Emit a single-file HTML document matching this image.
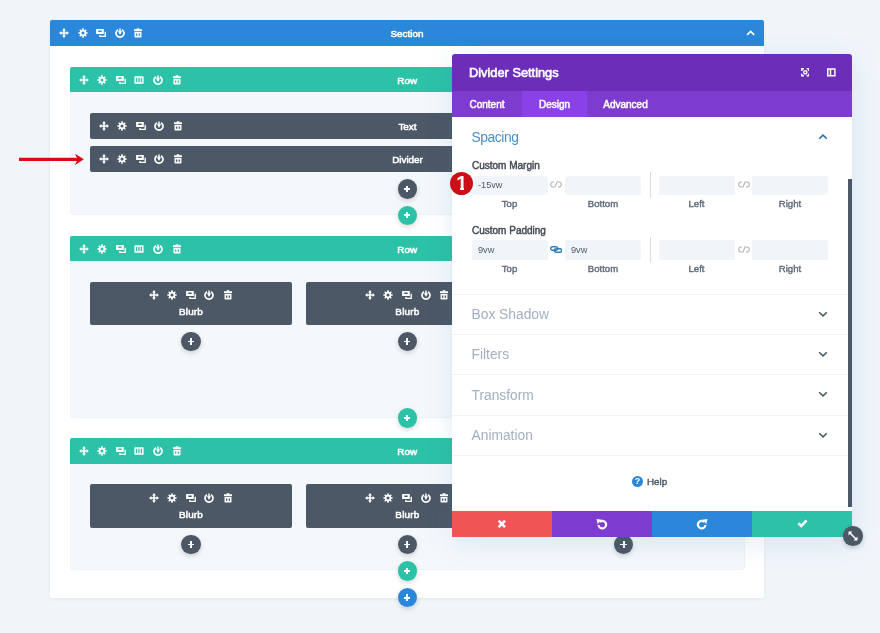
<!DOCTYPE html>
<html><head><meta charset="utf-8"><title>Divider Settings</title>
<style>
*{box-sizing:border-box;margin:0;padding:0}
html,body{width:880px;height:633px;overflow:hidden}
body{background:#f0f5fa;font-family:"Liberation Sans",sans-serif;position:relative;color:#fff}
.abs{position:absolute}
.bar{position:absolute;height:26px;border-radius:2px 2px 0 0}
.lbl{position:absolute;left:0;right:0;top:0;height:26px;line-height:28.4px;text-align:center;font-size:9.9px;-webkit-text-stroke:.55px #fff}
.lbl2{position:absolute;left:0;right:0;top:21.5px;letter-spacing:.2px;height:16px;line-height:16px;text-align:center;font-size:9.9px;-webkit-text-stroke:.55px #fff}
.ic{position:absolute;width:12px;height:12px;fill:#fff}
.sec{background:#2b87da}
.row{background:#2cc2a7;height:25.7px}
.mod{background:#4c5866;border-radius:2px}
.bar.mod{height:25.5px}
.rowbody{position:absolute;background:#f4f8fb;border:1px solid #eef3f7;border-radius:0 0 3px 3px}
.plus{position:absolute;width:19.6px;height:19.6px;border-radius:50%;box-shadow:0 2px 5px rgba(0,0,0,.16)}
.plus:before,.plus:after{content:"";position:absolute;background:#fff;left:6.600px;top:8.850px;width:6.400px;height:1.900px}
.plus:after{left:8.850px;top:6.600px;width:1.900px;height:6.400px}
.pd{background:#4c5866}.pt{background:#2cc2a7}.pb{background:#2b87da}
/* modal */
.modal{position:absolute;left:452px;top:54px;width:400px;height:482.8px;background:#fff;box-shadow:0 6px 28px rgba(50,105,170,.13);border-radius:3px 3px 0 0}
.mh{position:absolute;left:0;top:0;width:400px;height:37px;background:#6c2eb9;border-radius:3px 3px 0 0}
.mh .t{position:absolute;left:17px;top:0;line-height:37px;font-size:12.8px;-webkit-text-stroke:.6px #fff}
.tabs{position:absolute;left:0;top:37px;width:400px;height:26px;background:#7e3bd0}
.tab{position:absolute;top:0;height:26px;line-height:28px;font-size:10px;-webkit-text-stroke:.5px #fff;text-align:center}
.tab.on{background:#8b41e8}
.sep{position:absolute;left:0;width:396px;height:1px;background:#f1f5f9}
.tg{position:absolute;left:19.5px;font-size:13.8px;color:#a2b0c1;line-height:20px}
.chev{position:absolute;left:366px}
.fl{position:absolute;left:20px;font-size:10px;-webkit-text-stroke:.45px #434a55;color:#434a55;line-height:14px}
.inp{position:absolute;height:19px;background:#f1f5f9;border-radius:2px;font-size:9.2px;line-height:19px;color:#4c5866;padding-left:6px}
.sl{position:absolute;font-size:9.6px;-webkit-text-stroke:.4px #5f6b7a;color:#5f6b7a;line-height:12px;text-align:center;width:60px}
.vline{position:absolute;left:198px;width:1px;height:26px;background:#d6dbe0}
.foot{position:absolute;top:456.6px;height:26.2px;width:100px}
</style></head><body>

<div class="abs" style="left:50px;top:20px;width:714px;height:577.7px;background:#fff;box-shadow:0 1px 4px rgba(0,0,0,.06);border-radius:2px"></div>
<div class="bar sec" style="left:50px;top:20px;width:714px"><div class="lbl">Section</div>
<svg class="ic" style="left:7.9px;top:7.4px" viewBox="0 0 12 12"><path d="M6 1.100L7.900 3.400H6.800V5.200H8.600V4.100L10.900 6L8.600 7.900V6.800H6.800V8.600H7.900L6 10.900L4.100 8.600H5.200V6.800H3.400V7.900L1.100 6L3.400 4.100V5.200H5.200V3.400H4.100Z"/></svg>
<svg class="ic" style="left:26.5px;top:7.4px" viewBox="0 0 12 12"><path fill-rule="evenodd" d="M5.15 2.81L5.26 1.36L6.74 1.36L6.85 2.81L7.66 3.15L8.76 2.20L9.80 3.24L8.85 4.34L9.19 5.15L10.64 5.26L10.64 6.74L9.19 6.85L8.85 7.66L9.80 8.76L8.76 9.80L7.66 8.85L6.85 9.19L6.74 10.64L5.26 10.64L5.15 9.19L4.34 8.85L3.24 9.80L2.20 8.76L3.15 7.66L2.81 6.85L1.36 6.74L1.36 5.26L2.81 5.15L3.15 4.34L2.20 3.24L3.24 2.20L4.34 3.15ZM6 4.50a1.5 1.5 0 1 0 0 3.00a1.5 1.5 0 1 0 0 -3.00z"/></svg>
<svg class="ic" style="left:45.1px;top:7.4px" viewBox="0 0 12 12"><path fill-rule="evenodd" d="M1.100 2H8.800V6.900H1.100ZM3.250 3.500V4.900H6.650V3.500ZM9.550 4.750H10.900V10H4.200V8.100H5.550V8.650H9.550Z"/></svg>
<svg class="ic" style="left:63.7px;top:7.4px" viewBox="0 0 12 12"><path d="M5.250 1.500H6.750V4.300H8.050L6 7.900L3.950 4.300H5.250Z"/><path d="M3.575 2L4.425 3.470A3.150 3.150 0 1 0 7.575 3.470L8.425 2A4.850 4.850 0 1 1 3.575 2Z"/></svg>
<svg class="ic" style="left:82.3px;top:7.4px" viewBox="0 0 12 12"><path fill-rule="evenodd" d="M4.700 1.300H7.300V2.300H10V4H2V2.300H4.700ZM2.500 4.750H9.500V9.700A.8.800 0 0 1 8.700 10.500H3.300A.8.800 0 0 1 2.500 9.700ZM3.900 6.600V8.800H5.300V6.600ZM6.700 6.600V8.800H8.100V6.600Z"/></svg>
<svg class="abs" style="left:696.400px;top:9.800px" width="9.300" height="6" viewBox="0 0 9.300 6"><path d="M1.100 4.900 4.650 1.400 8.200 4.900" stroke="#fff" stroke-width="1.800" fill="none"/></svg>
</div>
<div class="rowbody" style="left:70px;top:80px;width:674.5px;height:135.2px"></div>
<div class="bar row" style="left:70px;top:66.8px;width:674.5px"><div class="lbl">Row</div>
<svg class="ic" style="left:7.5px;top:7px" viewBox="0 0 12 12"><path d="M6 1.100L7.900 3.400H6.800V5.200H8.600V4.100L10.900 6L8.600 7.900V6.800H6.800V8.600H7.900L6 10.900L4.100 8.600H5.200V6.800H3.400V7.900L1.100 6L3.400 4.100V5.200H5.200V3.400H4.100Z"/></svg>
<svg class="ic" style="left:26.1px;top:7px" viewBox="0 0 12 12"><path fill-rule="evenodd" d="M5.15 2.81L5.26 1.36L6.74 1.36L6.85 2.81L7.66 3.15L8.76 2.20L9.80 3.24L8.85 4.34L9.19 5.15L10.64 5.26L10.64 6.74L9.19 6.85L8.85 7.66L9.80 8.76L8.76 9.80L7.66 8.85L6.85 9.19L6.74 10.64L5.26 10.64L5.15 9.19L4.34 8.85L3.24 9.80L2.20 8.76L3.15 7.66L2.81 6.85L1.36 6.74L1.36 5.26L2.81 5.15L3.15 4.34L2.20 3.24L3.24 2.20L4.34 3.15ZM6 4.50a1.5 1.5 0 1 0 0 3.00a1.5 1.5 0 1 0 0 -3.00z"/></svg>
<svg class="ic" style="left:44.7px;top:7px" viewBox="0 0 12 12"><path fill-rule="evenodd" d="M1.100 2H8.800V6.900H1.100ZM3.250 3.500V4.900H6.650V3.500ZM9.550 4.750H10.900V10H4.200V8.100H5.550V8.650H9.550Z"/></svg>
<svg class="ic" style="left:63.3px;top:7px" viewBox="0 0 12 12"><path fill-rule="evenodd" d="M2.300 2.200H9.700A.9.900 0 0 1 10.600 3.100V8.900A.9.900 0 0 1 9.700 9.800H2.300A.9.900 0 0 1 1.400 8.900V3.100A.9.900 0 0 1 2.300 2.200ZM2.900 3.700V8.300H4.250V3.700ZM5.325 3.700V8.300H6.675V3.700ZM7.750 3.700V8.300H9.100V3.700Z"/></svg>
<svg class="ic" style="left:81.9px;top:7px" viewBox="0 0 12 12"><path d="M5.250 1.500H6.750V4.300H8.050L6 7.900L3.950 4.300H5.250Z"/><path d="M3.575 2L4.425 3.470A3.150 3.150 0 1 0 7.575 3.470L8.425 2A4.850 4.850 0 1 1 3.575 2Z"/></svg>
<svg class="ic" style="left:100.5px;top:7px" viewBox="0 0 12 12"><path fill-rule="evenodd" d="M4.700 1.300H7.300V2.300H10V4H2V2.300H4.700ZM2.500 4.750H9.500V9.700A.8.800 0 0 1 8.700 10.500H3.300A.8.800 0 0 1 2.500 9.700ZM3.900 6.600V8.800H5.300V6.600ZM6.700 6.600V8.800H8.100V6.600Z"/></svg>
</div>
<div class="bar mod" style="left:90px;top:113.3px;width:635px"><div class="lbl">Text</div>
<svg class="ic" style="left:7.5px;top:6.8px" viewBox="0 0 12 12"><path d="M6 1.100L7.900 3.400H6.800V5.200H8.600V4.100L10.900 6L8.600 7.900V6.800H6.800V8.600H7.900L6 10.900L4.100 8.600H5.200V6.800H3.400V7.900L1.100 6L3.400 4.100V5.200H5.200V3.400H4.100Z"/></svg>
<svg class="ic" style="left:26.1px;top:6.8px" viewBox="0 0 12 12"><path fill-rule="evenodd" d="M5.15 2.81L5.26 1.36L6.74 1.36L6.85 2.81L7.66 3.15L8.76 2.20L9.80 3.24L8.85 4.34L9.19 5.15L10.64 5.26L10.64 6.74L9.19 6.85L8.85 7.66L9.80 8.76L8.76 9.80L7.66 8.85L6.85 9.19L6.74 10.64L5.26 10.64L5.15 9.19L4.34 8.85L3.24 9.80L2.20 8.76L3.15 7.66L2.81 6.85L1.36 6.74L1.36 5.26L2.81 5.15L3.15 4.34L2.20 3.24L3.24 2.20L4.34 3.15ZM6 4.50a1.5 1.5 0 1 0 0 3.00a1.5 1.5 0 1 0 0 -3.00z"/></svg>
<svg class="ic" style="left:44.7px;top:6.8px" viewBox="0 0 12 12"><path fill-rule="evenodd" d="M1.100 2H8.800V6.900H1.100ZM3.250 3.500V4.900H6.650V3.500ZM9.550 4.750H10.900V10H4.200V8.100H5.550V8.650H9.550Z"/></svg>
<svg class="ic" style="left:63.3px;top:6.8px" viewBox="0 0 12 12"><path d="M5.250 1.500H6.750V4.300H8.050L6 7.900L3.950 4.300H5.250Z"/><path d="M3.575 2L4.425 3.470A3.150 3.150 0 1 0 7.575 3.470L8.425 2A4.850 4.850 0 1 1 3.575 2Z"/></svg>
<svg class="ic" style="left:81.9px;top:6.8px" viewBox="0 0 12 12"><path fill-rule="evenodd" d="M4.700 1.300H7.300V2.300H10V4H2V2.300H4.700ZM2.500 4.750H9.500V9.700A.8.800 0 0 1 8.700 10.500H3.300A.8.800 0 0 1 2.500 9.700ZM3.900 6.600V8.800H5.300V6.600ZM6.700 6.600V8.800H8.100V6.600Z"/></svg>
</div>
<div class="bar mod" style="left:90px;top:146.2px;width:635px"><div class="lbl">Divider</div>
<svg class="ic" style="left:7.5px;top:6.8px" viewBox="0 0 12 12"><path d="M6 1.100L7.900 3.400H6.800V5.200H8.600V4.100L10.900 6L8.600 7.900V6.800H6.800V8.600H7.900L6 10.900L4.100 8.600H5.200V6.800H3.400V7.900L1.100 6L3.400 4.100V5.200H5.200V3.400H4.100Z"/></svg>
<svg class="ic" style="left:26.1px;top:6.8px" viewBox="0 0 12 12"><path fill-rule="evenodd" d="M5.15 2.81L5.26 1.36L6.74 1.36L6.85 2.81L7.66 3.15L8.76 2.20L9.80 3.24L8.85 4.34L9.19 5.15L10.64 5.26L10.64 6.74L9.19 6.85L8.85 7.66L9.80 8.76L8.76 9.80L7.66 8.85L6.85 9.19L6.74 10.64L5.26 10.64L5.15 9.19L4.34 8.85L3.24 9.80L2.20 8.76L3.15 7.66L2.81 6.85L1.36 6.74L1.36 5.26L2.81 5.15L3.15 4.34L2.20 3.24L3.24 2.20L4.34 3.15ZM6 4.50a1.5 1.5 0 1 0 0 3.00a1.5 1.5 0 1 0 0 -3.00z"/></svg>
<svg class="ic" style="left:44.7px;top:6.8px" viewBox="0 0 12 12"><path fill-rule="evenodd" d="M1.100 2H8.800V6.900H1.100ZM3.250 3.500V4.900H6.650V3.500ZM9.550 4.750H10.900V10H4.200V8.100H5.550V8.650H9.550Z"/></svg>
<svg class="ic" style="left:63.3px;top:6.8px" viewBox="0 0 12 12"><path d="M5.250 1.500H6.750V4.300H8.050L6 7.900L3.950 4.300H5.250Z"/><path d="M3.575 2L4.425 3.470A3.150 3.150 0 1 0 7.575 3.470L8.425 2A4.850 4.850 0 1 1 3.575 2Z"/></svg>
<svg class="ic" style="left:81.9px;top:6.8px" viewBox="0 0 12 12"><path fill-rule="evenodd" d="M4.700 1.300H7.300V2.300H10V4H2V2.300H4.700ZM2.500 4.750H9.500V9.700A.8.800 0 0 1 8.700 10.500H3.300A.8.800 0 0 1 2.500 9.700ZM3.900 6.600V8.800H5.300V6.600ZM6.700 6.600V8.800H8.100V6.600Z"/></svg>
</div>
<div class="plus pd" style="left:397.5px;top:179px"></div>
<div class="plus pt" style="left:397.5px;top:205.5px"></div>
<div class="rowbody" style="left:70px;top:250px;width:674.5px;height:167.6px"></div>
<div class="bar row" style="left:70px;top:235.8px;width:674.5px"><div class="lbl">Row</div>
<svg class="ic" style="left:7.5px;top:7px" viewBox="0 0 12 12"><path d="M6 1.100L7.900 3.400H6.800V5.200H8.600V4.100L10.900 6L8.600 7.900V6.800H6.800V8.600H7.900L6 10.900L4.100 8.600H5.200V6.800H3.400V7.900L1.100 6L3.400 4.100V5.200H5.200V3.400H4.100Z"/></svg>
<svg class="ic" style="left:26.1px;top:7px" viewBox="0 0 12 12"><path fill-rule="evenodd" d="M5.15 2.81L5.26 1.36L6.74 1.36L6.85 2.81L7.66 3.15L8.76 2.20L9.80 3.24L8.85 4.34L9.19 5.15L10.64 5.26L10.64 6.74L9.19 6.85L8.85 7.66L9.80 8.76L8.76 9.80L7.66 8.85L6.85 9.19L6.74 10.64L5.26 10.64L5.15 9.19L4.34 8.85L3.24 9.80L2.20 8.76L3.15 7.66L2.81 6.85L1.36 6.74L1.36 5.26L2.81 5.15L3.15 4.34L2.20 3.24L3.24 2.20L4.34 3.15ZM6 4.50a1.5 1.5 0 1 0 0 3.00a1.5 1.5 0 1 0 0 -3.00z"/></svg>
<svg class="ic" style="left:44.7px;top:7px" viewBox="0 0 12 12"><path fill-rule="evenodd" d="M1.100 2H8.800V6.900H1.100ZM3.250 3.500V4.900H6.650V3.500ZM9.550 4.750H10.900V10H4.200V8.100H5.550V8.650H9.550Z"/></svg>
<svg class="ic" style="left:63.3px;top:7px" viewBox="0 0 12 12"><path fill-rule="evenodd" d="M2.300 2.200H9.700A.9.900 0 0 1 10.600 3.100V8.900A.9.900 0 0 1 9.700 9.800H2.300A.9.900 0 0 1 1.400 8.900V3.100A.9.900 0 0 1 2.300 2.200ZM2.900 3.700V8.300H4.250V3.700ZM5.325 3.700V8.300H6.675V3.700ZM7.750 3.700V8.300H9.100V3.700Z"/></svg>
<svg class="ic" style="left:81.9px;top:7px" viewBox="0 0 12 12"><path d="M5.250 1.500H6.750V4.300H8.050L6 7.900L3.950 4.300H5.250Z"/><path d="M3.575 2L4.425 3.470A3.150 3.150 0 1 0 7.575 3.470L8.425 2A4.850 4.850 0 1 1 3.575 2Z"/></svg>
<svg class="ic" style="left:100.5px;top:7px" viewBox="0 0 12 12"><path fill-rule="evenodd" d="M4.700 1.300H7.300V2.300H10V4H2V2.300H4.700ZM2.500 4.750H9.500V9.700A.8.800 0 0 1 8.700 10.500H3.300A.8.800 0 0 1 2.500 9.700ZM3.900 6.600V8.800H5.300V6.600ZM6.700 6.600V8.800H8.100V6.600Z"/></svg>
</div>
<div class="abs mod" style="left:90px;top:282px;width:202px;height:43px"><div class="lbl2" style="top:21.5px">Blurb</div>
<svg class="ic" style="left:57.5px;top:6.8px" viewBox="0 0 12 12"><path d="M6 1.100L7.900 3.400H6.800V5.200H8.600V4.100L10.900 6L8.600 7.900V6.800H6.800V8.600H7.900L6 10.900L4.100 8.600H5.200V6.800H3.400V7.900L1.100 6L3.400 4.100V5.200H5.200V3.400H4.100Z"/></svg>
<svg class="ic" style="left:76.1px;top:6.8px" viewBox="0 0 12 12"><path fill-rule="evenodd" d="M5.15 2.81L5.26 1.36L6.74 1.36L6.85 2.81L7.66 3.15L8.76 2.20L9.80 3.24L8.85 4.34L9.19 5.15L10.64 5.26L10.64 6.74L9.19 6.85L8.85 7.66L9.80 8.76L8.76 9.80L7.66 8.85L6.85 9.19L6.74 10.64L5.26 10.64L5.15 9.19L4.34 8.85L3.24 9.80L2.20 8.76L3.15 7.66L2.81 6.85L1.36 6.74L1.36 5.26L2.81 5.15L3.15 4.34L2.20 3.24L3.24 2.20L4.34 3.15ZM6 4.50a1.5 1.5 0 1 0 0 3.00a1.5 1.5 0 1 0 0 -3.00z"/></svg>
<svg class="ic" style="left:94.7px;top:6.8px" viewBox="0 0 12 12"><path fill-rule="evenodd" d="M1.100 2H8.800V6.900H1.100ZM3.250 3.500V4.900H6.650V3.500ZM9.550 4.750H10.900V10H4.200V8.100H5.550V8.650H9.550Z"/></svg>
<svg class="ic" style="left:113.3px;top:6.8px" viewBox="0 0 12 12"><path d="M5.250 1.500H6.750V4.300H8.050L6 7.900L3.950 4.300H5.250Z"/><path d="M3.575 2L4.425 3.470A3.150 3.150 0 1 0 7.575 3.470L8.425 2A4.850 4.850 0 1 1 3.575 2Z"/></svg>
<svg class="ic" style="left:131.9px;top:6.8px" viewBox="0 0 12 12"><path fill-rule="evenodd" d="M4.700 1.300H7.300V2.300H10V4H2V2.300H4.700ZM2.500 4.750H9.500V9.700A.8.800 0 0 1 8.700 10.500H3.300A.8.800 0 0 1 2.500 9.700ZM3.900 6.600V8.800H5.300V6.600ZM6.700 6.600V8.800H8.100V6.600Z"/></svg>
</div>
<div class="abs mod" style="left:306.4px;top:282px;width:202px;height:43px"><div class="lbl2" style="top:21.5px">Blurb</div>
<svg class="ic" style="left:57.5px;top:6.8px" viewBox="0 0 12 12"><path d="M6 1.100L7.900 3.400H6.800V5.200H8.600V4.100L10.900 6L8.600 7.900V6.800H6.800V8.600H7.900L6 10.900L4.100 8.600H5.200V6.800H3.400V7.900L1.100 6L3.400 4.100V5.200H5.200V3.400H4.100Z"/></svg>
<svg class="ic" style="left:76.1px;top:6.8px" viewBox="0 0 12 12"><path fill-rule="evenodd" d="M5.15 2.81L5.26 1.36L6.74 1.36L6.85 2.81L7.66 3.15L8.76 2.20L9.80 3.24L8.85 4.34L9.19 5.15L10.64 5.26L10.64 6.74L9.19 6.85L8.85 7.66L9.80 8.76L8.76 9.80L7.66 8.85L6.85 9.19L6.74 10.64L5.26 10.64L5.15 9.19L4.34 8.85L3.24 9.80L2.20 8.76L3.15 7.66L2.81 6.85L1.36 6.74L1.36 5.26L2.81 5.15L3.15 4.34L2.20 3.24L3.24 2.20L4.34 3.15ZM6 4.50a1.5 1.5 0 1 0 0 3.00a1.5 1.5 0 1 0 0 -3.00z"/></svg>
<svg class="ic" style="left:94.7px;top:6.8px" viewBox="0 0 12 12"><path fill-rule="evenodd" d="M1.100 2H8.800V6.900H1.100ZM3.250 3.500V4.900H6.650V3.500ZM9.550 4.750H10.900V10H4.200V8.100H5.550V8.650H9.550Z"/></svg>
<svg class="ic" style="left:113.3px;top:6.8px" viewBox="0 0 12 12"><path d="M5.250 1.500H6.750V4.300H8.050L6 7.900L3.950 4.300H5.250Z"/><path d="M3.575 2L4.425 3.470A3.150 3.150 0 1 0 7.575 3.470L8.425 2A4.850 4.850 0 1 1 3.575 2Z"/></svg>
<svg class="ic" style="left:131.9px;top:6.8px" viewBox="0 0 12 12"><path fill-rule="evenodd" d="M4.700 1.300H7.300V2.300H10V4H2V2.300H4.700ZM2.500 4.750H9.500V9.700A.8.800 0 0 1 8.700 10.500H3.300A.8.800 0 0 1 2.500 9.700ZM3.900 6.600V8.800H5.300V6.600ZM6.700 6.600V8.800H8.100V6.600Z"/></svg>
</div>
<div class="abs mod" style="left:522px;top:282px;width:202px;height:43px"><div class="lbl2" style="top:21.5px">Blurb</div>
<svg class="ic" style="left:57.5px;top:6.8px" viewBox="0 0 12 12"><path d="M6 1.100L7.900 3.400H6.800V5.200H8.600V4.100L10.900 6L8.600 7.900V6.800H6.800V8.600H7.900L6 10.900L4.100 8.600H5.200V6.800H3.400V7.900L1.100 6L3.400 4.100V5.200H5.200V3.400H4.100Z"/></svg>
<svg class="ic" style="left:76.1px;top:6.8px" viewBox="0 0 12 12"><path fill-rule="evenodd" d="M5.15 2.81L5.26 1.36L6.74 1.36L6.85 2.81L7.66 3.15L8.76 2.20L9.80 3.24L8.85 4.34L9.19 5.15L10.64 5.26L10.64 6.74L9.19 6.85L8.85 7.66L9.80 8.76L8.76 9.80L7.66 8.85L6.85 9.19L6.74 10.64L5.26 10.64L5.15 9.19L4.34 8.85L3.24 9.80L2.20 8.76L3.15 7.66L2.81 6.85L1.36 6.74L1.36 5.26L2.81 5.15L3.15 4.34L2.20 3.24L3.24 2.20L4.34 3.15ZM6 4.50a1.5 1.5 0 1 0 0 3.00a1.5 1.5 0 1 0 0 -3.00z"/></svg>
<svg class="ic" style="left:94.7px;top:6.8px" viewBox="0 0 12 12"><path fill-rule="evenodd" d="M1.100 2H8.800V6.900H1.100ZM3.250 3.500V4.900H6.650V3.500ZM9.550 4.750H10.900V10H4.200V8.100H5.550V8.650H9.550Z"/></svg>
<svg class="ic" style="left:113.3px;top:6.8px" viewBox="0 0 12 12"><path d="M5.250 1.500H6.750V4.300H8.050L6 7.900L3.950 4.300H5.250Z"/><path d="M3.575 2L4.425 3.470A3.150 3.150 0 1 0 7.575 3.470L8.425 2A4.850 4.850 0 1 1 3.575 2Z"/></svg>
<svg class="ic" style="left:131.9px;top:6.8px" viewBox="0 0 12 12"><path fill-rule="evenodd" d="M4.700 1.300H7.300V2.300H10V4H2V2.300H4.700ZM2.500 4.750H9.500V9.700A.8.800 0 0 1 8.700 10.500H3.300A.8.800 0 0 1 2.500 9.700ZM3.900 6.600V8.800H5.300V6.600ZM6.700 6.600V8.800H8.100V6.600Z"/></svg>
</div>
<div class="plus pd" style="left:181px;top:331.7px"></div>
<div class="plus pd" style="left:397.5px;top:331.7px"></div>
<div class="plus pd" style="left:613.9px;top:331.7px"></div>
<div class="plus pt" style="left:397.5px;top:408.2px"></div>
<div class="rowbody" style="left:70px;top:450px;width:674.5px;height:119.8px"></div>
<div class="bar row" style="left:70px;top:438.2px;width:674.5px"><div class="lbl">Row</div>
<svg class="ic" style="left:7.5px;top:7px" viewBox="0 0 12 12"><path d="M6 1.100L7.900 3.400H6.800V5.200H8.600V4.100L10.900 6L8.600 7.900V6.800H6.800V8.600H7.900L6 10.900L4.100 8.600H5.200V6.800H3.400V7.900L1.100 6L3.400 4.100V5.200H5.200V3.400H4.100Z"/></svg>
<svg class="ic" style="left:26.1px;top:7px" viewBox="0 0 12 12"><path fill-rule="evenodd" d="M5.15 2.81L5.26 1.36L6.74 1.36L6.85 2.81L7.66 3.15L8.76 2.20L9.80 3.24L8.85 4.34L9.19 5.15L10.64 5.26L10.64 6.74L9.19 6.85L8.85 7.66L9.80 8.76L8.76 9.80L7.66 8.85L6.85 9.19L6.74 10.64L5.26 10.64L5.15 9.19L4.34 8.85L3.24 9.80L2.20 8.76L3.15 7.66L2.81 6.85L1.36 6.74L1.36 5.26L2.81 5.15L3.15 4.34L2.20 3.24L3.24 2.20L4.34 3.15ZM6 4.50a1.5 1.5 0 1 0 0 3.00a1.5 1.5 0 1 0 0 -3.00z"/></svg>
<svg class="ic" style="left:44.7px;top:7px" viewBox="0 0 12 12"><path fill-rule="evenodd" d="M1.100 2H8.800V6.900H1.100ZM3.250 3.500V4.900H6.650V3.500ZM9.550 4.750H10.900V10H4.200V8.100H5.550V8.650H9.550Z"/></svg>
<svg class="ic" style="left:63.3px;top:7px" viewBox="0 0 12 12"><path fill-rule="evenodd" d="M2.300 2.200H9.700A.9.900 0 0 1 10.600 3.100V8.900A.9.900 0 0 1 9.700 9.800H2.300A.9.900 0 0 1 1.400 8.900V3.100A.9.900 0 0 1 2.300 2.200ZM2.900 3.700V8.300H4.250V3.700ZM5.325 3.700V8.300H6.675V3.700ZM7.750 3.700V8.300H9.100V3.700Z"/></svg>
<svg class="ic" style="left:81.9px;top:7px" viewBox="0 0 12 12"><path d="M5.250 1.500H6.750V4.300H8.050L6 7.900L3.950 4.300H5.250Z"/><path d="M3.575 2L4.425 3.470A3.150 3.150 0 1 0 7.575 3.470L8.425 2A4.850 4.850 0 1 1 3.575 2Z"/></svg>
<svg class="ic" style="left:100.5px;top:7px" viewBox="0 0 12 12"><path fill-rule="evenodd" d="M4.700 1.300H7.300V2.300H10V4H2V2.300H4.700ZM2.500 4.750H9.500V9.700A.8.800 0 0 1 8.700 10.500H3.300A.8.800 0 0 1 2.500 9.700ZM3.900 6.600V8.800H5.300V6.600ZM6.700 6.600V8.800H8.100V6.600Z"/></svg>
</div>
<div class="abs mod" style="left:90px;top:484.2px;width:202px;height:43.5px"><div class="lbl2" style="top:22.9px">Blurb</div>
<svg class="ic" style="left:57.5px;top:7.4px" viewBox="0 0 12 12"><path d="M6 1.100L7.900 3.400H6.800V5.200H8.600V4.100L10.900 6L8.600 7.900V6.800H6.800V8.600H7.900L6 10.900L4.100 8.600H5.200V6.800H3.400V7.900L1.100 6L3.400 4.100V5.200H5.200V3.400H4.100Z"/></svg>
<svg class="ic" style="left:76.1px;top:7.4px" viewBox="0 0 12 12"><path fill-rule="evenodd" d="M5.15 2.81L5.26 1.36L6.74 1.36L6.85 2.81L7.66 3.15L8.76 2.20L9.80 3.24L8.85 4.34L9.19 5.15L10.64 5.26L10.64 6.74L9.19 6.85L8.85 7.66L9.80 8.76L8.76 9.80L7.66 8.85L6.85 9.19L6.74 10.64L5.26 10.64L5.15 9.19L4.34 8.85L3.24 9.80L2.20 8.76L3.15 7.66L2.81 6.85L1.36 6.74L1.36 5.26L2.81 5.15L3.15 4.34L2.20 3.24L3.24 2.20L4.34 3.15ZM6 4.50a1.5 1.5 0 1 0 0 3.00a1.5 1.5 0 1 0 0 -3.00z"/></svg>
<svg class="ic" style="left:94.7px;top:7.4px" viewBox="0 0 12 12"><path fill-rule="evenodd" d="M1.100 2H8.800V6.900H1.100ZM3.250 3.500V4.900H6.650V3.500ZM9.550 4.750H10.900V10H4.200V8.100H5.550V8.650H9.550Z"/></svg>
<svg class="ic" style="left:113.3px;top:7.4px" viewBox="0 0 12 12"><path d="M5.250 1.500H6.750V4.300H8.050L6 7.900L3.950 4.300H5.250Z"/><path d="M3.575 2L4.425 3.470A3.150 3.150 0 1 0 7.575 3.470L8.425 2A4.850 4.850 0 1 1 3.575 2Z"/></svg>
<svg class="ic" style="left:131.9px;top:7.4px" viewBox="0 0 12 12"><path fill-rule="evenodd" d="M4.700 1.300H7.300V2.300H10V4H2V2.300H4.700ZM2.500 4.750H9.500V9.700A.8.800 0 0 1 8.700 10.500H3.300A.8.800 0 0 1 2.500 9.700ZM3.900 6.600V8.800H5.300V6.600ZM6.700 6.600V8.800H8.100V6.600Z"/></svg>
</div>
<div class="abs mod" style="left:306.4px;top:484.2px;width:202px;height:43.5px"><div class="lbl2" style="top:22.9px">Blurb</div>
<svg class="ic" style="left:57.5px;top:7.4px" viewBox="0 0 12 12"><path d="M6 1.100L7.900 3.400H6.800V5.200H8.600V4.100L10.900 6L8.600 7.900V6.800H6.800V8.600H7.900L6 10.900L4.100 8.600H5.200V6.800H3.400V7.900L1.100 6L3.400 4.100V5.200H5.200V3.400H4.100Z"/></svg>
<svg class="ic" style="left:76.1px;top:7.4px" viewBox="0 0 12 12"><path fill-rule="evenodd" d="M5.15 2.81L5.26 1.36L6.74 1.36L6.85 2.81L7.66 3.15L8.76 2.20L9.80 3.24L8.85 4.34L9.19 5.15L10.64 5.26L10.64 6.74L9.19 6.85L8.85 7.66L9.80 8.76L8.76 9.80L7.66 8.85L6.85 9.19L6.74 10.64L5.26 10.64L5.15 9.19L4.34 8.85L3.24 9.80L2.20 8.76L3.15 7.66L2.81 6.85L1.36 6.74L1.36 5.26L2.81 5.15L3.15 4.34L2.20 3.24L3.24 2.20L4.34 3.15ZM6 4.50a1.5 1.5 0 1 0 0 3.00a1.5 1.5 0 1 0 0 -3.00z"/></svg>
<svg class="ic" style="left:94.7px;top:7.4px" viewBox="0 0 12 12"><path fill-rule="evenodd" d="M1.100 2H8.800V6.900H1.100ZM3.250 3.500V4.900H6.650V3.500ZM9.550 4.750H10.900V10H4.200V8.100H5.550V8.650H9.550Z"/></svg>
<svg class="ic" style="left:113.3px;top:7.4px" viewBox="0 0 12 12"><path d="M5.250 1.500H6.750V4.300H8.050L6 7.900L3.950 4.300H5.250Z"/><path d="M3.575 2L4.425 3.470A3.150 3.150 0 1 0 7.575 3.470L8.425 2A4.850 4.850 0 1 1 3.575 2Z"/></svg>
<svg class="ic" style="left:131.9px;top:7.4px" viewBox="0 0 12 12"><path fill-rule="evenodd" d="M4.700 1.300H7.300V2.300H10V4H2V2.300H4.700ZM2.500 4.750H9.500V9.700A.8.800 0 0 1 8.700 10.500H3.300A.8.800 0 0 1 2.500 9.700ZM3.900 6.600V8.800H5.300V6.600ZM6.700 6.600V8.800H8.100V6.600Z"/></svg>
</div>
<div class="abs mod" style="left:522px;top:484.2px;width:202px;height:43.5px"><div class="lbl2" style="top:22.9px">Blurb</div>
<svg class="ic" style="left:57.5px;top:7.4px" viewBox="0 0 12 12"><path d="M6 1.100L7.900 3.400H6.800V5.200H8.600V4.100L10.900 6L8.600 7.900V6.800H6.800V8.600H7.900L6 10.900L4.100 8.600H5.200V6.800H3.400V7.900L1.100 6L3.400 4.100V5.200H5.200V3.400H4.100Z"/></svg>
<svg class="ic" style="left:76.1px;top:7.4px" viewBox="0 0 12 12"><path fill-rule="evenodd" d="M5.15 2.81L5.26 1.36L6.74 1.36L6.85 2.81L7.66 3.15L8.76 2.20L9.80 3.24L8.85 4.34L9.19 5.15L10.64 5.26L10.64 6.74L9.19 6.85L8.85 7.66L9.80 8.76L8.76 9.80L7.66 8.85L6.85 9.19L6.74 10.64L5.26 10.64L5.15 9.19L4.34 8.85L3.24 9.80L2.20 8.76L3.15 7.66L2.81 6.85L1.36 6.74L1.36 5.26L2.81 5.15L3.15 4.34L2.20 3.24L3.24 2.20L4.34 3.15ZM6 4.50a1.5 1.5 0 1 0 0 3.00a1.5 1.5 0 1 0 0 -3.00z"/></svg>
<svg class="ic" style="left:94.7px;top:7.4px" viewBox="0 0 12 12"><path fill-rule="evenodd" d="M1.100 2H8.800V6.900H1.100ZM3.250 3.500V4.900H6.650V3.500ZM9.550 4.750H10.900V10H4.200V8.100H5.550V8.650H9.550Z"/></svg>
<svg class="ic" style="left:113.3px;top:7.4px" viewBox="0 0 12 12"><path d="M5.250 1.500H6.750V4.300H8.050L6 7.900L3.950 4.300H5.250Z"/><path d="M3.575 2L4.425 3.470A3.150 3.150 0 1 0 7.575 3.470L8.425 2A4.850 4.850 0 1 1 3.575 2Z"/></svg>
<svg class="ic" style="left:131.9px;top:7.4px" viewBox="0 0 12 12"><path fill-rule="evenodd" d="M4.700 1.300H7.300V2.300H10V4H2V2.300H4.700ZM2.500 4.750H9.500V9.700A.8.800 0 0 1 8.700 10.500H3.300A.8.800 0 0 1 2.500 9.700ZM3.900 6.600V8.800H5.300V6.600ZM6.700 6.600V8.800H8.100V6.600Z"/></svg>
</div>
<div class="plus pd" style="left:181px;top:534.7px"></div>
<div class="plus pd" style="left:397.5px;top:534.7px"></div>
<div class="plus pd" style="left:613.9px;top:534.7px"></div>
<div class="plus pt" style="left:397.5px;top:561.2px"></div>
<div class="plus pb" style="left:397.5px;top:587.8px"></div>
<div class="modal">
<div class="mh"><div class="t">Divider Settings</div>
<svg class="abs" style="left:348.700px;top:14.200px" width="8.600" height="8.600" viewBox="0 0 10 10"><path d="M.9 3.400V.9H3.400M6.600 .9H9.100V3.400M9.100 6.600V9.100H6.600M3.400 9.100H.9V6.600" stroke="#fff" stroke-width="1.800" fill="none"/><rect x="3.300" y="3.300" width="3.400" height="3.400" rx=".8" fill="none" stroke="#fff" stroke-width="1.600"/></svg>
<svg class="abs" style="left:375.100px;top:14.100px" width="8.600" height="8.600" viewBox="0 0 10 10"><path fill-rule="evenodd" fill="#fff" d="M0 .2h10v9.600H0zM1.700 1.900v6.200h1.500V1.900zM4.900 1.900v6.200h3.400V1.900z"/></svg>
</div>
<div class="tabs"><div class="tab" style="left:0;width:70px">Content</div><div class="tab on" style="left:70px;width:65px">Design</div><div class="tab" style="left:135px;width:77px">Advanced</div></div>
<div class="tg" style="top:73.700px;color:#4b8ec8;letter-spacing:-.4px">Spacing</div>
<svg class="chev" style="top:78.500px;color:#2b6ca3;transform:rotate(180deg)" width="10" height="8" viewBox="0 0 10 8"><path d="M1.200 2.300 5 5.900 8.800 2.300" stroke="currentColor" stroke-width="1.500" fill="none"/></svg>
<div class="fl" style="top:104.500px">Custom Margin</div>
<div class="inp" style="left:20px;top:121.5px;width:75.500px;height:19px;line-height:19px">-15vw</div>
<div class="inp" style="left:113px;top:121.5px;width:76px;height:19px;line-height:19px"></div>
<div class="inp" style="left:206.500px;top:121.5px;width:76px;height:19px"></div>
<div class="inp" style="left:300px;top:121.5px;width:76px;height:19px"></div>
<div class="vline" style="top:118.0px"></div>
<svg class="abs" style="left:98px;top:127.0px;color:#b3b7bd" width="12" height="7" viewBox="0 0 12 7"><path d="M4 1H3.200a2.500 2.500 0 0 0 0 5H4M8 1h.8a2.500 2.500 0 0 1 0 5H8M7.400 .3 4.600 6.700" stroke="currentColor" stroke-width="1.150" fill="none"/></svg>
<svg class="abs" style="left:285.500px;top:127.0px;color:#b3b7bd" width="12" height="7" viewBox="0 0 12 7"><path d="M4 1H3.200a2.500 2.500 0 0 0 0 5H4M8 1h.8a2.500 2.500 0 0 1 0 5H8M7.400 .3 4.600 6.700" stroke="currentColor" stroke-width="1.150" fill="none"/></svg>
<div class="sl" style="left:27.5px;top:144.0px">Top</div>
<div class="sl" style="left:121px;top:144.0px">Bottom</div>
<div class="sl" style="left:214.5px;top:144.0px">Left</div>
<div class="sl" style="left:308px;top:144.0px">Right</div>
<div class="fl" style="top:169.500px">Custom Padding</div>
<div class="inp" style="left:20px;top:186px;width:75.500px;height:19.5px;line-height:21.1px">9vw</div>
<div class="inp" style="left:113px;top:186px;width:76px;height:19.5px;line-height:21.1px">9vw</div>
<div class="inp" style="left:206.500px;top:186px;width:76px;height:19.5px"></div>
<div class="inp" style="left:300px;top:186px;width:76px;height:19.5px"></div>
<div class="vline" style="top:182.5px"></div>
<svg class="abs" style="left:97.800px;top:191.9px;color:#2f7db5" width="12.400" height="7" viewBox="0 0 12.400 7"><rect x=".7" y=".7" width="7.200" height="3.600" rx="1.800" stroke="currentColor" stroke-width="1.400" fill="none"/><rect x="4.500" y="2.700" width="7.200" height="3.600" rx="1.800" stroke="currentColor" stroke-width="1.400" fill="none"/></svg>
<svg class="abs" style="left:285.500px;top:191.5px;color:#b3b7bd" width="12" height="7" viewBox="0 0 12 7"><path d="M4 1H3.200a2.500 2.500 0 0 0 0 5H4M8 1h.8a2.500 2.500 0 0 1 0 5H8M7.400 .3 4.600 6.700" stroke="currentColor" stroke-width="1.150" fill="none"/></svg>
<div class="sl" style="left:27.5px;top:208.5px">Top</div>
<div class="sl" style="left:121px;top:208.5px">Bottom</div>
<div class="sl" style="left:214.5px;top:208.5px">Left</div>
<div class="sl" style="left:308px;top:208.5px">Right</div>
<div class="sep" style="top:239.5px"></div>
<div class="sep" style="top:280px"></div>
<div class="sep" style="top:320px"></div>
<div class="sep" style="top:360.5px"></div>
<div class="sep" style="top:401px"></div>
<div class="tg" style="top:251.3px">Box Shadow</div>
<svg class="chev" style="top:255.8px;color:#4c5866" width="10" height="8" viewBox="0 0 10 8"><path d="M1.200 2.300 5 5.900 8.800 2.300" stroke="currentColor" stroke-width="1.500" fill="none"/></svg>
<div class="tg" style="top:291px">Filters</div>
<svg class="chev" style="top:295.5px;color:#4c5866" width="10" height="8" viewBox="0 0 10 8"><path d="M1.200 2.300 5 5.900 8.800 2.300" stroke="currentColor" stroke-width="1.500" fill="none"/></svg>
<div class="tg" style="top:331.8px">Transform</div>
<svg class="chev" style="top:336.3px;color:#4c5866" width="10" height="8" viewBox="0 0 10 8"><path d="M1.200 2.300 5 5.900 8.800 2.300" stroke="currentColor" stroke-width="1.500" fill="none"/></svg>
<div class="tg" style="top:372.3px">Animation</div>
<svg class="chev" style="top:376.8px;color:#4c5866" width="10" height="8" viewBox="0 0 10 8"><path d="M1.200 2.300 5 5.900 8.800 2.300" stroke="currentColor" stroke-width="1.500" fill="none"/></svg>
<div class="abs" style="left:180px;top:422.100px;width:11px;height:11px;border-radius:50%;background:#2b87da;color:#fff;font-size:9px;font-weight:bold;line-height:11px;text-align:center">?</div>
<div class="abs" style="left:195px;top:420.700px;font-size:9.800px;-webkit-text-stroke:.4px #4c5866;color:#4c5866;line-height:14px">Help</div>
<div class="abs" style="left:396px;top:125px;width:4px;height:328px;background:#4c5866"></div>
<div class="foot" style="left:0;background:#ef5555"><svg class="abs" style="left:45.200px;top:8.300px" width="9.700" height="9.700" viewBox="0 0 9 9"><path d="M1.500 1.500 7.500 7.500M7.500 1.500 1.500 7.500" stroke="#fff" stroke-width="2.400"/></svg></div>
<div class="foot" style="left:100px;background:#7e3bd0"><svg class="abs" style="left:44.400px;top:7.400px" width="12" height="12" viewBox="0 0 11 11"><path d="M3.300 3.600A3.500 3.500 0 1 1 2.300 6.400" stroke="#fff" stroke-width="2" fill="none"/><path d="M.5 .9 5.300 1.700 1.500 5.600z" fill="#fff"/></svg></div>
<div class="foot" style="left:200px;background:#2b87da"><svg class="abs" style="left:43.900px;top:7.400px" width="12" height="12" viewBox="0 0 11 11"><g transform="translate(11 0) scale(-1 1)"><path d="M3.300 3.600A3.500 3.500 0 1 1 2.300 6.400" stroke="#fff" stroke-width="2" fill="none"/><path d="M.5 .9 5.300 1.700 1.500 5.600z" fill="#fff"/></g></svg></div>
<div class="foot" style="left:300px;background:#2cc2a7"><svg class="abs" style="left:45.200px;top:8.800px" width="11" height="9" viewBox="0 0 11 9"><path d="M1.400 4.300 4.200 6.900 9.600 1.500" stroke="#fff" stroke-width="2.600" fill="none"/></svg></div>
</div>
<div class="abs" style="left:449.900px;top:171.600px;width:23.600px;height:23.600px;border-radius:50%;background:#cc0f17;color:#fff;font-size:19.500px;font-weight:bold;line-height:23.600px;text-align:center">1<i style="position:absolute;left:6.600px;top:16.350px;width:3.240px;height:2.400px;background:#cc0f17"></i><i style="position:absolute;left:13.640px;top:16.350px;width:4px;height:2.400px;background:#cc0f17"></i></div>
<div class="abs" style="left:843px;top:526.300px;width:19.600px;height:19.600px;border-radius:50%;background:#4c5866;box-shadow:0 2px 5px rgba(0,0,0,.18)"><svg class="abs" style="left:4px;top:4px" width="12" height="12" viewBox="0 0 12 12"><path d="M3 3 9 9" stroke="#fff" stroke-width="1.500"/><path d="M1.500 1.500h4l-4 4zM10.500 10.500h-4l4-4z" fill="#fff"/></svg></div>
<svg class="abs" style="left:15px;top:152px" width="75" height="15" viewBox="0 0 75 15"><path d="M4 7.300H63" stroke="#de0812" stroke-width="3.200" fill="none"/><path d="M68.900 7.300 60 1.700 62.600 7.300 60 12.900z" fill="#de0812"/></svg>
</body></html>
